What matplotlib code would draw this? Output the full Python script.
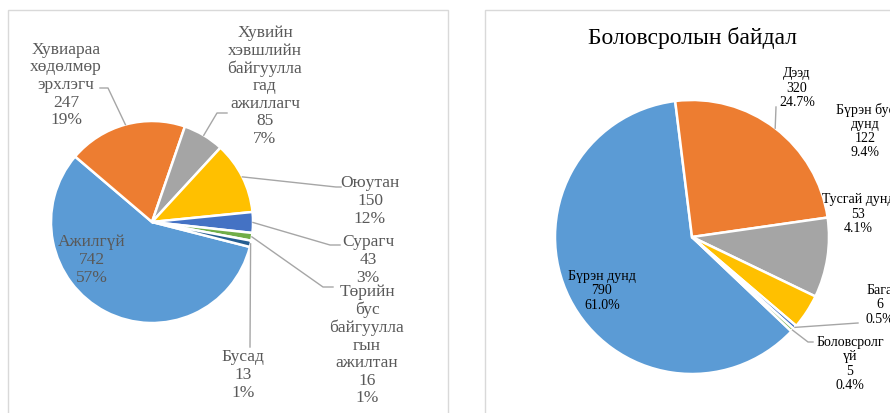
import numpy as np
import matplotlib.pyplot as plt
from matplotlib.patches import Rectangle

plt.rcParams['font.family'] = ['Liberation Serif', 'DejaVu Serif']

# left chart: employment status
emp_labels = ['Ажилгүй', 'Хувиараа\nхөдөлмөр\nэрхлэгч', 'Хувийн\nхэвшлийн\nбайгуулла\nгад\nажиллагч',
              'Оюутан', 'Сурагч', 'Төрийн\nбус\nбайгуулла\nгын\nажилтан', 'Бусад']
emp_values = [742, 247, 85, 150, 43, 16, 13]
emp_pct = ['57%', '19%', '7%', '12%', '3%', '1%', '1%']

# right chart: education
edu_title = 'Боловсролын байдал'
edu_labels = ['Бүрэн дунд', 'Дээд', 'Бүрэн бус\nдунд', 'Тусгай дунд', 'Бага', 'Боловсролг\nүй']
edu_values = [790, 320, 122, 53, 6, 5]
edu_pct = ['61.0%', '24.7%', '9.4%', '4.1%', '0.5%', '0.4%']

office = ['#5B9BD5', '#ED7D31', '#A5A5A5', '#FFC000', '#4472C4', '#70AD47', '#255E91']

W, H = 890, 413
fig = plt.figure(figsize=(W / 100, H / 100), dpi=100)
ax = fig.add_axes([0, 0, 1, 1])


def Y(y):
    return H - y


# chart boxes
ax.add_patch(Rectangle((8, Y(430)), 440, 420, fill=False, ec='#D9D9D9', lw=1))
ax.add_patch(Rectangle((485, Y(430)), 420, 420, fill=False, ec='#D9D9D9', lw=1))


def draw_pie(values, labels, pct, colors, center, r, start, lab_pos, leaders, fs, tcol, ls):
    wedges, _ = ax.pie(values, colors=colors, startangle=start, counterclock=False,
                       center=(center[0], Y(center[1])), radius=r,
                       wedgeprops=dict(edgecolor='white', linewidth=1.8))
    for i, w in enumerate(wedges):
        txt = f'{labels[i]}\n{values[i]}\n{pct[i]}'
        ax.text(lab_pos[i][0], Y(lab_pos[i][1]), txt, ha='center', va='center',
                fontsize=fs, color=tcol, linespacing=ls)
        if leaders[i]:
            mid = np.radians((w.theta1 + w.theta2) / 2)
            xs = [center[0] + r * np.cos(mid)] + [p[0] for p in leaders[i]]
            ys = [Y(center[1]) + r * np.sin(mid)] + [Y(p[1]) for p in leaders[i]]
            ax.plot(xs, ys, color='#A6A6A6', lw=1)


draw_pie(emp_values, emp_labels, emp_pct, office, (152, 222), 101, -14.3,
         [(92, 260), (66, 85), (265, 86), (370, 201), (368, 260), (367, 345), (243, 375)],
         [None, [(108, 88), (100, 88)], [(217, 113), (227, 113)], [(336, 187), (341, 187)],
          [(330, 245), (340, 245)], [(323, 287), (333, 287)], [(250, 347)]],
         12.5, '#595959', 1.13)

draw_pie(edu_values, edu_labels, edu_pct, office, (692, 237), 137, -43.5,
         [(602, 291), (797, 88), (865, 131), (858, 214), (880, 305), (850, 364)],
         [None, [(776, 107)], None, None, [(858, 323)], [(808, 342), (813, 342)]],
         10, '#000000', 1.13)

ax.text(692, Y(38), edu_title, ha='center', va='center', fontsize=17, color='#000000')

ax.set_xlim(0, W)
ax.set_ylim(0, H)
ax.set_aspect('equal')
ax.axis('off')

fig.savefig('out.png', dpi=100)
